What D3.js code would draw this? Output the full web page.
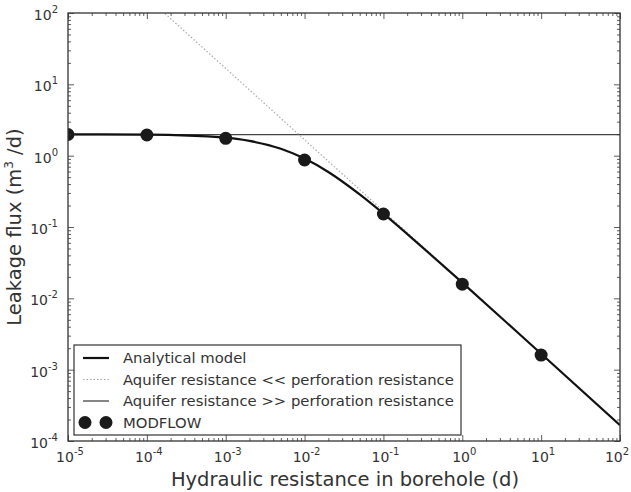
<!DOCTYPE html>
<html>
<head>
<meta charset="utf-8">
<script src="https://cdn.jsdelivr.net/npm/d3@7"></script>
<style>
  body { margin: 0; background: #fff; }
  text { font-family: "DejaVu Sans", sans-serif; fill: #333; }
</style>
</head>
<body>
<div id="chart"></div>
<script>
// data
var xTickExps = [-5, -4, -3, -2, -1, 0, 1, 2];
var yTickExps = [-4, -3, -2, -1, 0, 1, 2];

// analytical model, sampled along the curve
var analyticalX = [1e-5, 1e-4, 1e-3, 2e-3, 5e-3, 1e-2, 2e-2, 5e-2, 1e-1, 3e-1, 1, 10, 100];
var analyticalY = [1.99, 1.97, 1.79, 1.61, 1.25, 0.91, 0.59, 0.286, 0.154, 0.054, 0.0166, 0.00167, 0.000167];

// aquifer resistance << perforation resistance (dotted)
var lowAqX = [1e-4, 100];
var lowAqY = [167, 0.000167];

// aquifer resistance >> perforation resistance (flat)
var highAqX = [1e-5, 100];
var highAqY = [1.97, 1.97];

// MODFLOW points
var modflowX = [1e-5, 1e-4, 1e-3, 1e-2, 1e-1, 1, 10];
var modflowY = [1.98, 1.95, 1.75, 0.87, 0.152, 0.0158, 0.0016];

var margin = { left: 68, right: 11, top: 13, bottom: 51 };
var W = 631, H = 492;
var width = W - margin.left - margin.right,
    height = H - margin.top - margin.bottom;

var svg = d3.select("#chart").append("svg")
    .attr("width", W)
    .attr("height", H);

var g = svg.append("g")
    .attr("transform", "translate(" + margin.left + "," + margin.top + ")");

var x = d3.scaleLog().domain([1e-5, 1e2]).range([0, width]);
var y = d3.scaleLog().domain([1e-4, 1e2]).range([height, 0]);

svg.append("defs").append("clipPath").attr("id", "clip")
  .append("rect").attr("width", width).attr("height", height);

var plot = g.append("g").attr("clip-path", "url(#clip)");

function zip(xs, ys) { return xs.map(function(v, i){ return [v, ys[i]]; }); }

var line = d3.line()
    .x(function(d){ return x(d[0]); })
    .y(function(d){ return y(d[1]); });

// flat line
plot.append("path")
    .datum(zip(highAqX, highAqY))
    .attr("d", line)
    .attr("fill", "none")
    .attr("stroke", "#444")
    .attr("stroke-width", 1.3);

// dotted line
plot.append("path")
    .datum(zip(lowAqX, lowAqY))
    .attr("d", line)
    .attr("fill", "none")
    .attr("stroke", "#aaa")
    .attr("stroke-width", 1.2)
    .attr("stroke-dasharray", "1.5,2");

// analytical model
plot.append("path")
    .datum(zip(analyticalX, analyticalY))
    .attr("d", line.curve(d3.curveMonotoneX))
    .attr("fill", "none")
    .attr("stroke", "#111")
    .attr("stroke-width", 2.2);

// MODFLOW
plot.selectAll("circle.mf")
    .data(zip(modflowX, modflowY))
    .enter().append("circle")
    .attr("class", "mf")
    .attr("cx", function(d){ return x(d[0]); })
    .attr("cy", function(d){ return y(d[1]); })
    .attr("r", 6.5)
    .attr("fill", "#1a1a1a");

// minor/major ticks, inward on all sides
var xMinor = [], yMinor = [];
for (var e = -5; e < 2; e++) for (var m = 2; m < 10; m++) xMinor.push(m * Math.pow(10, e));
for (var e2 = -4; e2 < 2; e2++) for (var m2 = 2; m2 < 10; m2++) yMinor.push(m2 * Math.pow(10, e2));
var xMajor = xTickExps.map(function(p){ return Math.pow(10, p); });
var yMajor = yTickExps.map(function(p){ return Math.pow(10, p); });

function axisTicks(axisFn, scale, vals, len, tr) {
  var a = g.append("g").attr("transform", tr)
    .call(axisFn(scale).tickValues(vals).tickSize(len).tickFormat(""));
  a.select(".domain").remove();
  a.selectAll("line").attr("stroke", "#333").attr("stroke-width", 0.8);
}
axisTicks(d3.axisTop, x, xMajor, 6, "translate(0," + height + ")");
axisTicks(d3.axisTop, x, xMinor, 3, "translate(0," + height + ")");
axisTicks(d3.axisBottom, x, xMajor, 6, "translate(0,0)");
axisTicks(d3.axisBottom, x, xMinor, 3, "translate(0,0)");
axisTicks(d3.axisRight, y, yMajor, 6, "translate(0,0)");
axisTicks(d3.axisRight, y, yMinor, 3, "translate(0,0)");
axisTicks(d3.axisLeft, y, yMajor, 6, "translate(" + width + ",0)");
axisTicks(d3.axisLeft, y, yMinor, 3, "translate(" + width + ",0)");

// frame
g.append("rect")
    .attr("width", width)
    .attr("height", height)
    .attr("fill", "none")
    .attr("stroke", "#333")
    .attr("stroke-width", 1.3);

// tick labels
function powLabel(sel, p) {
  sel.append("tspan").text("10");
  sel.append("tspan").attr("font-size", "10px").attr("dy", "-7").text(p);
}
xTickExps.forEach(function(p){
  var t = g.append("text")
    .attr("x", Math.min(x(Math.pow(10, p)) + 2, width - 3))
    .attr("y", height + 21)
    .attr("text-anchor", "middle")
    .attr("font-size", "14px");
  powLabel(t, p);
});
yTickExps.forEach(function(p){
  var t = g.append("text")
    .attr("x", -10)
    .attr("y", y(Math.pow(10, p)) + 7)
    .attr("text-anchor", "end")
    .attr("font-size", "14px");
  powLabel(t, p);
});

// axis labels
g.append("text")
    .attr("x", width / 2 + 1)
    .attr("y", height + 45)
    .attr("text-anchor", "middle")
    .attr("font-size", "19.5px")
    .text("Hydraulic resistance in borehole (d)");

var yl = g.append("text")
    .attr("transform", "translate(-47," + (height / 2) + ") rotate(-90)")
    .attr("text-anchor", "middle")
    .attr("font-size", "19.5px");
yl.append("tspan").text("Leakage flux (m");
yl.append("tspan").attr("font-size", "12px").attr("dy", "-8").text("3");
yl.append("tspan").attr("dy", "8").text(" /d)");

// legend
var legendItems = ["Analytical model",
  "Aquifer resistance << perforation resistance",
  "Aquifer resistance >> perforation resistance",
  "MODFLOW"];
var legend = g.append("g").attr("transform", "translate(6,332)");
legend.append("rect")
    .attr("width", 387)
    .attr("height", 90)
    .attr("fill", "#fff")
    .attr("stroke", "#333")
    .attr("stroke-width", 1.2);

legendItems.forEach(function(name, i){
  var row = legend.append("g").attr("transform", "translate(0," + (13 + i * 21.5) + ")");
  if (i === 3) {
    [11, 32].forEach(function(cx){
      row.append("circle").attr("cx", cx).attr("cy", 0).attr("r", 6.5).attr("fill", "#1a1a1a");
    });
  } else {
    var ln = row.append("line").attr("x1", 9).attr("x2", 35).attr("y1", 0).attr("y2", 0);
    if (i === 0) ln.attr("stroke", "#111").attr("stroke-width", 2.2);
    if (i === 1) ln.attr("stroke", "#aaa").attr("stroke-width", 1.2).attr("stroke-dasharray", "1.5,2");
    if (i === 2) ln.attr("stroke", "#444").attr("stroke-width", 1.3);
  }
  row.append("text")
    .attr("x", 49)
    .attr("y", 5)
    .attr("font-size", "14.8px")
    .text(name);
});
</script>
</body>
</html>
